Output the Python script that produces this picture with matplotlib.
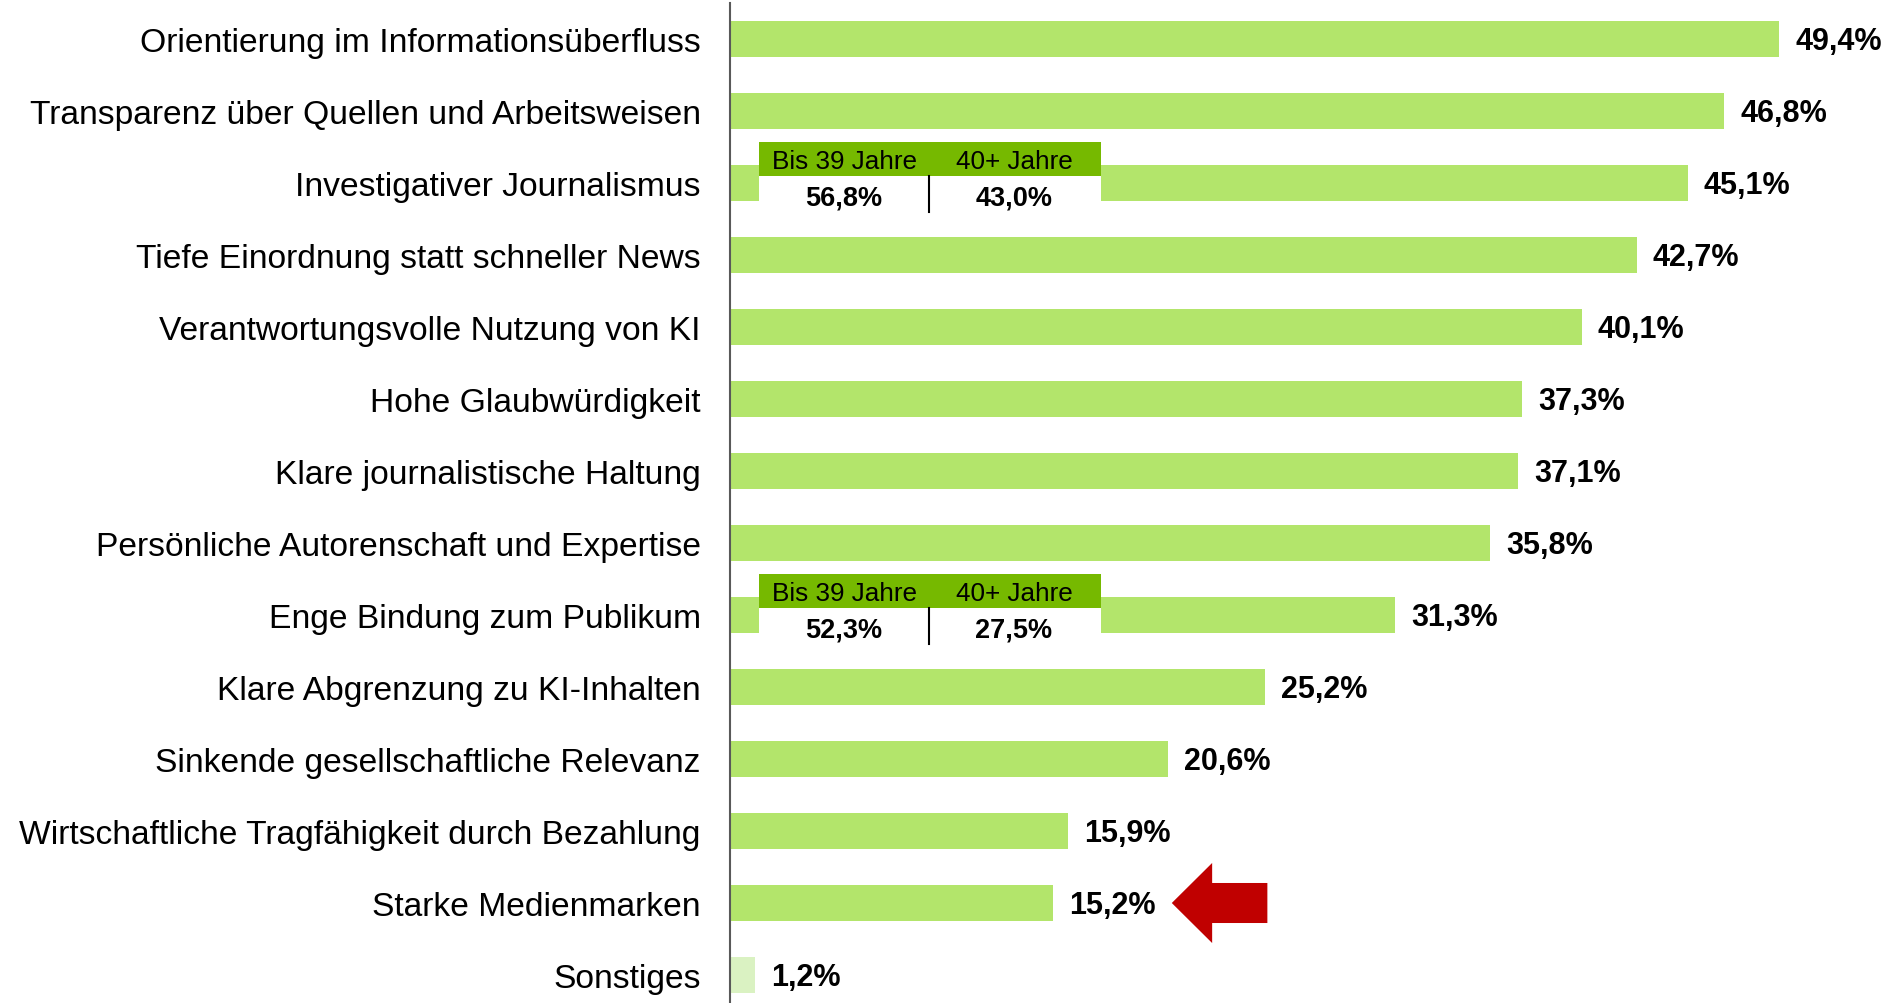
import matplotlib
matplotlib.use("Agg")
import matplotlib.pyplot as plt
from matplotlib.patches import Rectangle, Polygon

plt.rcParams['font.family'] = ['Liberation Sans', 'DejaVu Sans']

categories = [
    "Orientierung im Informationsüberfluss",
    "Transparenz über Quellen und Arbeitsweisen",
    "Investigativer Journalismus",
    "Tiefe Einordnung statt schneller News",
    "Verantwortungsvolle Nutzung von KI",
    "Hohe Glaubwürdigkeit",
    "Klare journalistische Haltung",
    "Persönliche Autorenschaft und Expertise",
    "Enge Bindung zum Publikum",
    "Klare Abgrenzung zu KI-Inhalten",
    "Sinkende gesellschaftliche Relevanz",
    "Wirtschaftliche Tragfähigkeit durch Bezahlung",
    "Starke Medienmarken",
    "Sonstiges",
]
values = [49.4, 46.8, 45.1, 42.7, 40.1, 37.3, 37.1, 35.8, 31.3, 25.2, 20.6, 15.9, 15.2, 1.2]

# age-group breakdowns (row index -> values)
age_groups = ["Bis 39 Jahre", "40+ Jahre"]
breakdown_rows = [2, 8]
breakdown_young = [56.8, 52.3]
breakdown_old = [43.0, 27.5]

highlight_row = 12

BAR = "#B3E56B"
BAR_LIGHT = "#DAF2C2"
HEAD = "#76B900"
RED = "#C00000"

def fmt(v):
    return f"{v:.1f}".replace(".", ",") + "%"

W, H = 1888, 1004
fig = plt.figure(figsize=(W / 100, H / 100), dpi=100)
ax_left = 730 / W
px_per_unit = 21.24
xmax = (W - 730) / px_per_unit
ax = fig.add_axes([ax_left, 0, 1 - ax_left, 1000 / H])
row_px = 72
ax.set_xlim(0, xmax)
ax.set_ylim(1000 / row_px - 0.5, -0.5)

ys = list(range(len(categories)))
colors = [BAR] * (len(categories) - 1) + [BAR_LIGHT]
ax.barh(ys, values, height=0.51, color=colors, zorder=2)

for y, v in zip(ys, values):
    ax.text(v + 16 / px_per_unit, y + 0.03, fmt(v), va="center", ha="left",
            fontsize=22, fontweight="bold", color="black", zorder=5)

ax.set_yticks(ys)
ax.set_yticklabels(categories, fontsize=24.2)
ax.tick_params(axis="y", length=0, pad=21)
ax.set_xticks([])
for s in ["top", "right", "bottom"]:
    ax.spines[s].set_visible(False)
ax.spines["left"].set_color("#595959")
ax.spines["left"].set_linewidth(1.5)
ax.spines["left"].set_zorder(6)

# breakdown boxes
bx0, bx1 = 1.37, 17.47
divx = 9.37
c1, c2 = 5.37, 13.37
for r, a, b in zip(breakdown_rows, breakdown_young, breakdown_old):
    ax.add_patch(Rectangle((bx0, r - 0.57), bx1 - bx0, 0.473, color=HEAD, zorder=3, lw=0))
    ax.add_patch(Rectangle((bx0, r - 0.097), bx1 - bx0, 0.36, color="white", zorder=3, lw=0))
    ax.plot([divx, divx], [r - 0.097, r + 0.40], color="black", lw=1.5, zorder=4)
    ax.text(c1, r - 0.31, age_groups[0], ha="center", va="center", fontsize=18.8, zorder=5)
    ax.text(c2, r - 0.31, age_groups[1], ha="center", va="center", fontsize=18.8, zorder=5)
    ax.text(c1, r + 0.20, fmt(a), ha="center", va="center", fontsize=19.5, fontweight="bold", zorder=5)
    ax.text(c2, r + 0.20, fmt(b), ha="center", va="center", fontsize=19.5, fontweight="bold", zorder=5)

# red arrow pointing at highlighted bar label
r = highlight_row
tip, back, tail = 20.8, 22.7, 25.3
hw, sw = 0.556, 0.278
arrow = Polygon([(tip, r), (back, r - hw), (back, r - sw), (tail, r - sw),
                 (tail, r + sw), (back, r + sw), (back, r + hw)],
                closed=True, color=RED, lw=0, zorder=5)
ax.add_patch(arrow)

fig.savefig("out.png", dpi=100)
